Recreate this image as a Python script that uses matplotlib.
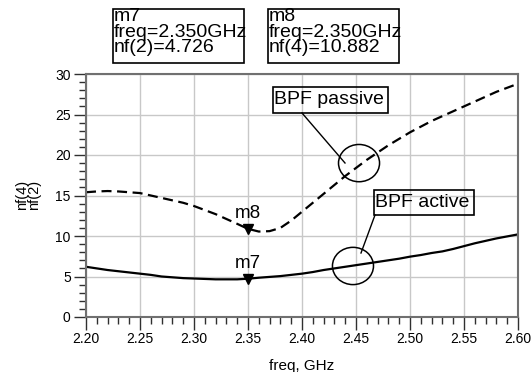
import matplotlib
matplotlib.use("Agg")
import matplotlib.pyplot as plt
from matplotlib.patches import Rectangle, Ellipse
from matplotlib.lines import Line2D
from matplotlib.ticker import MultipleLocator, FormatStrFormatter

plt.rcParams['font.family'] = ['Liberation Sans', 'DejaVu Sans']

freq = [2.20, 2.21, 2.22, 2.23, 2.24, 2.25, 2.26, 2.27, 2.28, 2.29, 2.30,
        2.31, 2.32, 2.33, 2.34, 2.35, 2.36, 2.37, 2.38, 2.39, 2.40,
        2.41, 2.42, 2.43, 2.44, 2.45, 2.46, 2.47, 2.48, 2.49, 2.50,
        2.51, 2.52, 2.53, 2.54, 2.55, 2.56, 2.57, 2.58, 2.59, 2.60]
nf_passive = [15.4, 15.5, 15.55, 15.5, 15.4, 15.3, 15.0, 14.7, 14.4, 14.1, 13.7,
              13.2, 12.7, 12.1, 11.5, 10.882, 10.55, 10.6, 11.0, 11.9, 13.0,
              14.1, 15.2, 16.3, 17.4, 18.4, 19.4, 20.3, 21.2, 22.0, 22.8,
              23.5, 24.2, 24.8, 25.4, 26.0, 26.6, 27.2, 27.8, 28.3, 28.8]
nf_active = [6.2, 6.0, 5.8, 5.65, 5.5, 5.35, 5.2, 5.0, 4.9, 4.8, 4.75,
             4.7, 4.65, 4.65, 4.65, 4.726, 4.85, 4.95, 5.05, 5.2, 5.35,
             5.55, 5.8, 6.0, 6.2, 6.4, 6.6, 6.8, 7.0, 7.2, 7.45,
             7.65, 7.9, 8.1, 8.4, 8.75, 9.1, 9.4, 9.7, 9.95, 10.2]

marker_freq = 2.35
m7_value = 4.726
m8_value = 10.882

W, H = 532, 372
fig = plt.figure(figsize=(W / 100, H / 100), dpi=100)

def fx(px):
    return px / W

def fy(py):
    return 1 - py / H

L, R, T, B = 86, 518, 74, 317
ax = fig.add_axes([fx(L), fy(B), fx(R) - fx(L), fy(T) - fy(B)])

ax.plot(freq, nf_passive, color='black', lw=1.6, ls=(0, (4.5, 2.5)))
ax.plot(freq, nf_active, color='black', lw=1.6)

ax.set_xlim(2.20, 2.60)
ax.set_ylim(0, 30)
ax.xaxis.set_major_locator(MultipleLocator(0.05))
ax.xaxis.set_minor_locator(MultipleLocator(0.01))
ax.yaxis.set_major_locator(MultipleLocator(5))
ax.yaxis.set_minor_locator(MultipleLocator(1))
ax.xaxis.set_major_formatter(FormatStrFormatter('%.2f'))
ax.grid(True, which='major', color='#c8c8c8', lw=1.0)
ax.set_axisbelow(True)
for s in ax.spines.values():
    s.set_color('#707070')
    s.set_linewidth(1.5)
ax.tick_params(which='major', length=9, width=1, color='#303030', labelsize=10, pad=2)
ax.tick_params(which='minor', length=5, width=1, color='#303030')
ax.set_xlabel('freq, GHz', fontsize=11, labelpad=9)

fig.text(fx(28), fy(195), 'nf(4)\nnf(2)', rotation=90, ha='center', va='center',
         fontsize=10.5, linespacing=0.8)

# markers
ax.plot([marker_freq], [m7_value], marker='v', color='black', ms=6.5, clip_on=False)
ax.plot([marker_freq], [m8_value], marker='v', color='black', ms=6.5, clip_on=False)
ax.annotate('m7', (marker_freq, m7_value), xytext=(0, 5), textcoords='offset points',
            ha='center', va='bottom', fontsize=13.5)
ax.annotate('m8', (marker_freq, m8_value), xytext=(0, 5), textcoords='offset points',
            ha='center', va='bottom', fontsize=13.5)

def box(x0, y0, x1, y1):
    fig.patches.append(Rectangle((fx(x0), fy(y1)), fx(x1) - fx(x0), fy(y0) - fy(y1),
                                 transform=fig.transFigure, fill=False,
                                 edgecolor='black', lw=1.2))

box(113, 9, 244, 63)
fig.text(fx(114), fy(8), 'm7\nfreq=%.3fGHz\nnf(2)=%.3f' % (marker_freq, m7_value),
         ha='left', va='top', fontsize=14, linespacing=0.9)
box(268, 9, 399, 63)
fig.text(fx(269), fy(8), 'm8\nfreq=%.3fGHz\nnf(4)=%.3f' % (marker_freq, m8_value),
         ha='left', va='top', fontsize=14, linespacing=0.9)

# series labels
box(273, 87, 388, 113)
fig.text(fx(274), fy(100), 'BPF passive', ha='left', va='center', fontsize=14)
box(374, 190, 474, 215)
fig.text(fx(375), fy(202.5), 'BPF active', ha='left', va='center', fontsize=14)

fig.lines.append(Line2D([fx(302), fx(345)], [fy(113), fy(163)], transform=fig.transFigure,
                        color='black', lw=1))
fig.lines.append(Line2D([fx(375), fx(361)], [fy(215), fy(253)], transform=fig.transFigure,
                        color='black', lw=1))

ax.add_patch(Ellipse((2.4528, 19.0), 0.038, 4.6, fill=False, edgecolor='black', lw=1.1,
                     clip_on=False))
ax.add_patch(Ellipse((2.4472, 6.3), 0.038, 4.6, fill=False, edgecolor='black', lw=1.1,
                     clip_on=False))

fig.savefig('out.png', dpi=100)
